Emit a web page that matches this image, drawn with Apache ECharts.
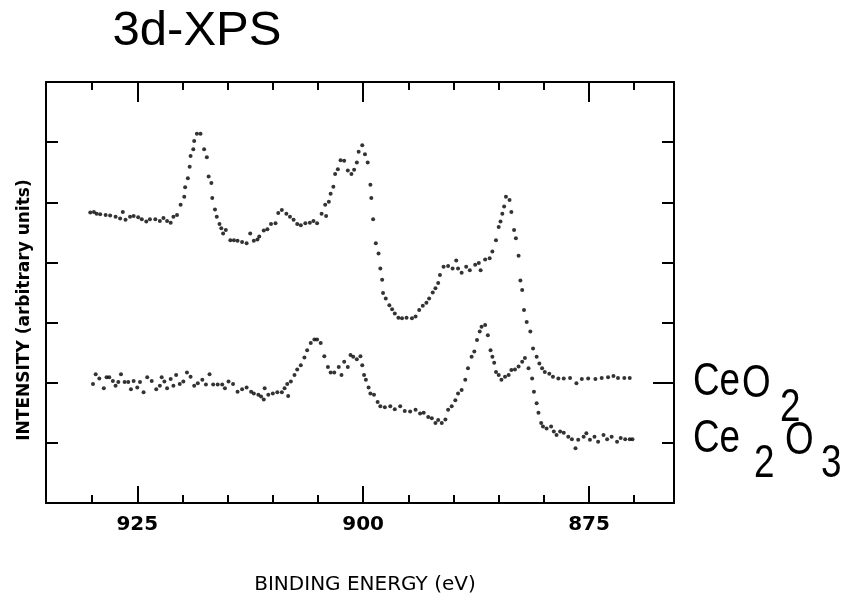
<!DOCTYPE html>
<html>
<head>
<meta charset="utf-8">
<title>3d-XPS</title>
<script src="https://cdn.jsdelivr.net/npm/echarts@6/dist/echarts.min.js"></script>
<style>
  html, body { margin: 0; padding: 0; background: #fff; }
  #chart { width: 852px; height: 596px; }
</style>
</head>
<body>
<div id="chart"></div>
<script>
// Binding energy axis ticks (eV)
const majorTicks = [875, 900, 925];
const minorTicks = [870, 880, 885, 890, 895, 905, 910, 915, 920, 930];
// Intensity axis ticks (arbitrary units)
const intensityMin = 0;
const intensityMax = 7;
const intensityStep = 1;
const markedIntensity = [2];

// CeO2 spectrum
const ceo2Energy = [
  930.2, 929.8, 929.5, 929.1, 928.5, 928.0, 927.4, 926.9, 926.6, 926.3,
  925.8, 925.4, 924.9, 924.5, 924.0, 923.6, 923.0, 922.5, 922.1, 921.7,
  921.3, 921.0, 920.6, 920.2, 919.8, 919.7, 919.4, 919.2, 919.1, 918.8,
  918.7, 918.4, 918.0, 917.6, 917.3, 917.1, 916.8, 916.7, 916.4, 916.2,
  915.9, 915.7, 915.5, 915.2, 914.7, 914.3, 913.9, 913.4, 912.9, 912.5,
  912.1, 911.7, 911.5, 911.0, 910.6, 910.2, 909.7, 909.4, 909.0, 908.5,
  908.1, 907.7, 907.3, 906.9, 906.4, 905.9, 905.5, 905.1, 904.6, 904.1,
  904.2, 903.8, 903.6, 903.3, 903.1, 902.8, 902.5, 902.1, 901.7, 901.3,
  901.0, 900.7, 900.5, 900.1, 899.8, 899.5, 899.2, 899.1, 898.9, 898.6,
  898.3, 898.1, 897.9, 897.8, 897.5, 897.1, 896.8, 896.5, 896.1, 895.7,
  895.2, 894.6, 894.2, 893.8, 893.4, 893.0, 892.7, 892.3, 892.0, 891.7,
  891.5, 891.1, 890.6, 890.1, 889.7, 889.5, 889.1, 888.6, 888.2, 887.6,
  887.2, 887.0, 886.5, 886.0, 885.7, 885.3, 885.0, 884.8, 884.6, 884.4,
  884.2, 883.8, 883.6, 883.3, 883.1, 882.8, 882.6, 882.4, 882.2, 881.9,
  881.5, 881.2, 880.8, 880.5, 880.2, 879.9, 879.4, 879.0, 878.4, 877.8,
  877.1, 876.4, 875.8, 875.1, 874.3, 873.6, 872.9, 872.3, 871.8, 871.1,
  870.5
];
const ceo2Intensity = [
  4.83, 4.84, 4.81, 4.80, 4.79, 4.78, 4.76, 4.73, 4.84, 4.71,
  4.76, 4.77, 4.75, 4.72, 4.68, 4.72, 4.72, 4.69, 4.74, 4.69,
  4.66, 4.76, 4.79, 4.96, 5.09, 5.25, 5.40, 5.59, 5.77, 5.88,
  6.02, 6.14, 6.14, 5.88, 5.75, 5.43, 5.32, 5.07, 4.88, 4.76,
  4.64, 4.57, 4.48, 4.54, 4.37, 4.37, 4.36, 4.34, 4.32, 4.48,
  4.36, 4.38, 4.43, 4.53, 4.55, 4.64, 4.65, 4.82, 4.87, 4.81,
  4.76, 4.71, 4.64, 4.62, 4.65, 4.66, 4.69, 4.65, 4.81, 4.77,
  4.96, 5.01, 5.14, 5.26, 5.47, 5.55, 5.70, 5.69, 5.53, 5.47,
  5.54, 5.66, 5.84, 5.95, 5.80, 5.66, 5.29, 5.07, 4.72, 4.32,
  4.15, 3.90, 3.71, 3.49, 3.40, 3.29, 3.22, 3.15, 3.08, 3.07,
  3.08, 3.07, 3.10, 3.21, 3.28, 3.33, 3.40, 3.50, 3.57, 3.66,
  3.79, 3.93, 3.94, 3.90, 4.03, 3.90, 3.83, 3.93, 3.87, 3.96,
  3.99, 3.87, 4.05, 4.07, 4.18, 4.37, 4.59, 4.68, 4.81, 4.93,
  5.09, 5.04, 4.84, 4.54, 4.40, 4.11, 3.70, 3.54, 3.21, 3.01,
  2.85, 2.57, 2.43, 2.32, 2.24, 2.18, 2.15, 2.10, 2.07, 2.07,
  2.08, 1.99, 2.06, 2.07, 2.06, 2.08, 2.09, 2.11, 2.08, 2.08,
  2.08
];

// Ce2O3 spectrum
const ce2o3Energy = [
  929.9, 929.6, 929.2, 928.7, 928.4, 928.1, 927.7, 927.4, 927.1, 926.8,
  926.4, 926.0, 925.7, 925.4, 925.0, 924.7, 924.3, 923.9, 923.4, 922.9,
  922.5, 922.3, 922.0, 921.7, 921.3, 921.0, 920.7, 920.3, 919.9, 919.5,
  919.1, 918.7, 918.3, 917.8, 917.4, 917.0, 916.6, 916.1, 915.6, 915.3,
  914.9, 914.4, 913.9, 913.4, 912.9, 912.4, 912.1, 911.6, 911.3, 911.0,
  910.9, 910.5, 910.0, 909.5, 909.0, 908.7, 908.3, 908.4, 908.0, 907.6,
  907.3, 906.9, 906.5, 906.2, 905.8, 905.4, 905.1, 904.7, 904.3, 903.9,
  903.6, 903.2, 902.7, 902.4, 902.1, 901.7, 901.4, 901.1, 900.7, 900.3,
  900.1, 899.9, 899.7, 899.4, 899.2, 898.8, 898.4, 898.1, 897.6, 897.0,
  896.5, 895.9, 895.4, 894.8, 894.2, 893.7, 893.3, 892.8, 892.4, 892.0,
  891.7, 891.3, 890.9, 890.6, 890.2, 889.8, 889.5, 889.1, 888.7, 888.4,
  888.0, 887.7, 887.4, 887.1, 886.9, 886.5, 886.2, 885.9, 885.7, 885.5,
  885.3, 885.0, 884.7, 884.3, 883.9, 883.6, 883.2, 882.8, 882.4, 882.1,
  881.7, 881.3, 881.1, 880.8, 880.6, 880.3, 880.1, 879.7, 879.2, 878.9,
  878.6, 878.2, 877.8, 877.3, 876.9, 876.5, 876.2, 875.6, 875.3, 874.9,
  874.4, 874.0, 873.4, 873.0, 872.5, 871.9, 871.5, 871.0, 870.5, 870.2
];
const ce2o3Intensity = [
  1.98, 2.14, 2.07, 1.91, 2.09, 2.09, 2.03, 1.95, 2.01, 2.14,
  2.01, 2.01, 1.89, 2.03, 1.92, 2.01, 1.84, 2.09, 2.03, 1.89,
  1.95, 2.09, 2.02, 1.91, 2.06, 1.95, 2.13, 1.98, 2.02, 2.17,
  2.10, 1.95, 1.99, 2.05, 1.97, 2.14, 1.97, 1.97, 1.97, 1.91,
  2.02, 1.98, 1.85, 1.89, 1.92, 1.85, 1.82, 1.80, 1.77, 1.72,
  1.91, 1.80, 1.82, 1.84, 1.84, 1.91, 1.78, 1.98, 2.02, 2.13,
  2.22, 2.29, 2.42, 2.54, 2.66, 2.72, 2.72, 2.66, 2.44, 2.26,
  2.17, 2.17, 2.26, 2.13, 2.35, 2.26, 2.46, 2.43, 2.39, 2.44,
  2.29, 2.13, 2.05, 1.92, 1.82, 1.80, 1.68, 1.61, 1.59, 1.61,
  1.56, 1.61, 1.53, 1.52, 1.55, 1.49, 1.50, 1.43, 1.41, 1.33,
  1.38, 1.33, 1.39, 1.55, 1.61, 1.71, 1.82, 1.88, 2.05, 2.24,
  2.43, 2.52, 2.71, 2.85, 2.93, 2.96, 2.79, 2.54, 2.43, 2.33,
  2.18, 2.13, 2.05, 2.10, 2.13, 2.21, 2.22, 2.27, 2.35, 2.41,
  2.24, 2.07, 1.85, 1.66, 1.50, 1.33, 1.27, 1.24, 1.27, 1.19,
  1.13, 1.19, 1.17, 1.10, 1.06, 0.91, 1.05, 1.10, 1.16, 1.05,
  1.10, 1.02, 1.13, 1.06, 1.10, 1.02, 1.08, 1.06, 1.06, 1.06
];

const zip = (xs, ys) => xs.map((x, i) => [x, ys[i]]);

const INK = '#000';
const energyRange = { min: 865.6, max: 935.1 };

function energyAxis(position, ticks, tickLength, showLine, labels) {
  return {
    type: 'value',
    position: position,
    inverse: true,
    min: energyRange.min,
    max: energyRange.max,
    axisLine: { show: showLine, onZero: false, lineStyle: { color: INK, width: 2 } },
    axisTick: {
      show: true, inside: true, length: tickLength, customValues: ticks,
      lineStyle: { color: INK, width: 2 }
    },
    axisLabel: labels ? {
      show: true, customValues: labels, margin: 12,
      color: INK, fontFamily: 'DejaVu Sans', fontSize: 20, fontWeight: 'bold'
    } : { show: false },
    splitLine: { show: false }
  };
}

function intensityAxis(position, tickLength, ticks, showLine) {
  const tick = {
    show: true, inside: true, length: tickLength,
    lineStyle: { color: INK, width: 2 }
  };
  if (ticks) tick.customValues = ticks;
  return {
    type: 'value',
    position: position,
    min: intensityMin,
    max: intensityMax,
    interval: intensityStep,
    axisLine: { show: showLine, onZero: false, lineStyle: { color: INK, width: 2 } },
    axisTick: tick,
    axisLabel: { show: false },
    splitLine: { show: false }
  };
}

function textEl(text, x, y, font, extra) {
  return Object.assign({
    type: 'text', x: x, y: y, silent: true,
    style: Object.assign({
      text: text, fill: INK, align: 'left', verticalAlign: 'middle'
    }, font)
  }, extra || {});
}

const labelFont = { fontFamily: 'Liberation Sans', fontSize: 46 };
const narrow = { scaleX: 0.8 };

const chart = echarts.init(document.getElementById('chart'), null, { renderer: 'canvas' });
chart.setOption({
  animation: false,
  backgroundColor: '#fff',
  grid: { left: 46, right: 178, top: 82, bottom: 93, containLabel: false },
  xAxis: [
    energyAxis('bottom', minorTicks.concat(majorTicks), 8, true, majorTicks),
    energyAxis('bottom', majorTicks, 17, false, null),
    energyAxis('top', minorTicks.concat(majorTicks), 8, true, null),
    energyAxis('top', majorTicks, 20, false, null)
  ],
  yAxis: [
    intensityAxis('left', 12, null, true),
    intensityAxis('right', 12, null, true),
    intensityAxis('right', 21, markedIntensity, false)
  ],
  series: [
    {
      name: 'CeO2', type: 'scatter', xAxisIndex: 0, yAxisIndex: 0,
      data: zip(ceo2Energy, ceo2Intensity),
      symbol: 'circle', symbolSize: 4,
      itemStyle: { color: INK }, silent: true
    },
    {
      name: 'Ce2O3', type: 'scatter', xAxisIndex: 0, yAxisIndex: 0,
      data: zip(ce2o3Energy, ce2o3Intensity),
      symbol: 'circle', symbolSize: 4,
      itemStyle: { color: INK }, silent: true
    }
  ],
  graphic: [
    textEl('3d-XPS', 197, 31, { fontFamily: 'Liberation Sans', fontSize: 49, align: 'center' }),
    textEl('BINDING ENERGY (eV)', 365, 585, { fontFamily: 'DejaVu Sans', fontSize: 20, align: 'center' }),
    textEl('INTENSITY (arbitrary units)', 25, 310,
      { fontFamily: 'DejaVu Sans', fontSize: 17, fontWeight: 'bold', align: 'center' },
      { rotation: Math.PI / 2 }),
    // CeO2 label
    textEl('Ce', 693, 382, labelFont, narrow),
    textEl('O', 742, 384, labelFont, narrow),
    textEl('2', 780, 408, labelFont, narrow),
    // Ce2O3 label
    textEl('Ce', 693, 439, labelFont, narrow),
    textEl('2', 754, 464, labelFont, narrow),
    textEl('O', 785, 441, labelFont, narrow),
    textEl('3', 821, 464, labelFont, narrow)
  ]
});
</script>
</body>
</html>
